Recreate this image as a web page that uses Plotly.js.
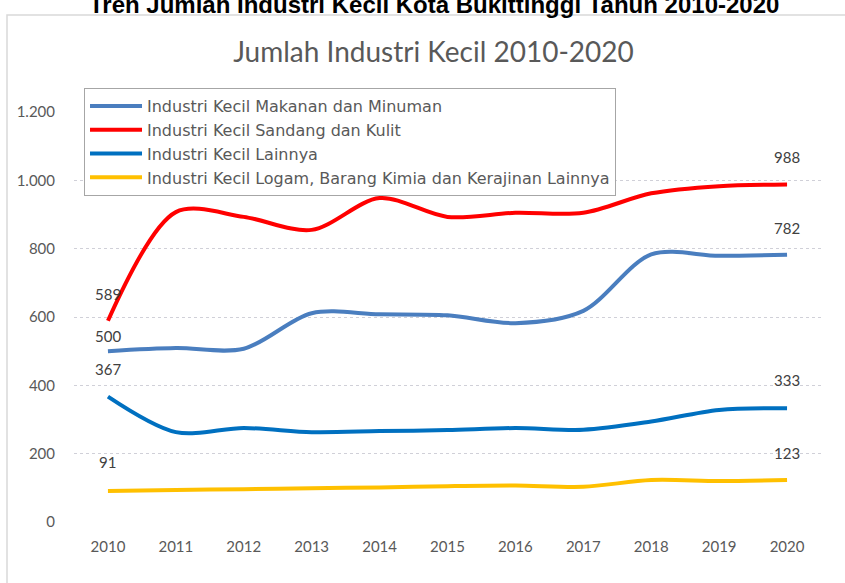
<!DOCTYPE html>
<html>
<head>
<meta charset="utf-8">
<script src="https://cdn.plot.ly/plotly-3.0.1.min.js"></script>
<style>html,body{margin:0;padding:0;background:#fff;}#chart{width:845px;height:583px;}</style>
</head>
<body>
<div id="chart"></div>
<script>
var years = ["2010","2011","2012","2013","2014","2015","2016","2017","2018","2019","2020"];
var makananMinuman = [500, 509, 507, 611, 608, 605, 582, 618, 783, 779, 782];
var sandangKulit   = [589, 907, 893, 855, 948, 893, 905, 905, 962, 983, 988];
var lainnya        = [367, 263, 275, 263, 266, 269, 275, 270, 294, 328, 333];
var logamKimia     = [91, 94, 96, 99, 101, 105, 107, 103, 123, 120, 123];
var seriesNames = [
  "Industri Kecil Makanan dan Minuman",
  "Industri Kecil Sandang dan Kulit",
  "Industri Kecil Lainnya",
  "Industri Kecil Logam, Barang Kimia dan Kerajinan Lainnya"
];
var yTickVals = [0, 200, 400, 600, 800, 1000, 1200];
var yTickText = ["0", "200", "400", "600", "800", "1.000", "1.200"];

var seriesData = [makananMinuman, sandangKulit, lainnya, logamKimia];
var colors = ["#4A7EBF", "#FF0000", "#0070C0", "#FFC000"];
// label offsets (px above point) for first / last label of each series
var labelShiftFirst = [15, 27, 28, 29];
var labelShiftLast = [27, 27, 28, 27];

var traces = seriesData.map(function (vals, i) {
  return {
    x: years, y: vals, name: seriesNames[i], type: "scatter", mode: "lines",
    line: {color: colors[i], width: 4, shape: "spline", smoothing: 0.9},
    legendgroup: "g" + i, hoverinfo: "x+y"
  };
});

var annotations = [];
seriesData.forEach(function (vals, i) {
  [0, vals.length - 1].forEach(function (k) {
    annotations.push({
      x: k, y: vals[k], xref: "x", yref: "y", text: String(vals[k]),
      showarrow: false, yshift: k === 0 ? labelShiftFirst[i] : labelShiftLast[i],
      font: {family: "Lato, sans-serif", size: 15, color: "#404040"}
    });
  });
});
annotations.push({
  xref: "paper", yref: "paper", x: 0.482, y: 1.262, xanchor: "center", yanchor: "middle",
  text: "<b>Tren Jumlah Industri Kecil Kota Bukittinggi Tahun 2010-2020</b>", showarrow: false,
  font: {family: "Liberation Sans, Arial, sans-serif", size: 24, color: "#000000"}
});

var layout = {
  width: 845, height: 583,
  margin: {l: 74, r: 24, t: 112, b: 61},
  paper_bgcolor: "#ffffff", plot_bgcolor: "#ffffff",
  title: {
    text: "Jumlah Industri Kecil 2010-2020", x: 0.513, xanchor: "center", y: 0.911, yanchor: "middle",
    yref: "container", font: {family: "Lato, sans-serif", size: 28, color: "#595959"}
  },
  xaxis: {
    type: "category", range: [-0.5, 10.5], showgrid: false, zeroline: false, showline: false,
    ticks: "", tickfont: {family: "Lato, sans-serif", size: 15, color: "#595959"}, ticklabelstandoff: 14,
    fixedrange: true
  },
  yaxis: {
    range: [0, 1200], tickvals: yTickVals, ticktext: yTickText, showgrid: true,
    gridcolor: "#d0d0d8", griddash: "dot", gridwidth: 1, zeroline: false, showline: false, ticks: "",
    tickfont: {family: "Lato, sans-serif", size: 15, color: "#595959"}, ticklabelstandoff: 18,
    fixedrange: true
  },
  showlegend: true,
  legend: {
    x: 0.0134, y: 1.0585, xanchor: "left", yanchor: "top", bgcolor: "#ffffff",
    bordercolor: "#a6a6a6", borderwidth: 1, traceorder: "grouped", tracegroupgap: 0,
    itemwidth: 52, font: {family: "DejaVu Sans, sans-serif", size: 16, color: "#595959"}
  },
  shapes: [{
    type: "rect", xref: "paper", yref: "paper", x0: -0.0897, x1: 1.2, y0: -0.3, y1: 1.2366,
    line: {color: "#d9d9d9", width: 1.5}, fillcolor: "rgba(0,0,0,0)", layer: "below"
  }],
  annotations: annotations
};

Plotly.newPlot("chart", traces, layout, {displayModeBar: false, staticPlot: true});
</script>
</body>
</html>
